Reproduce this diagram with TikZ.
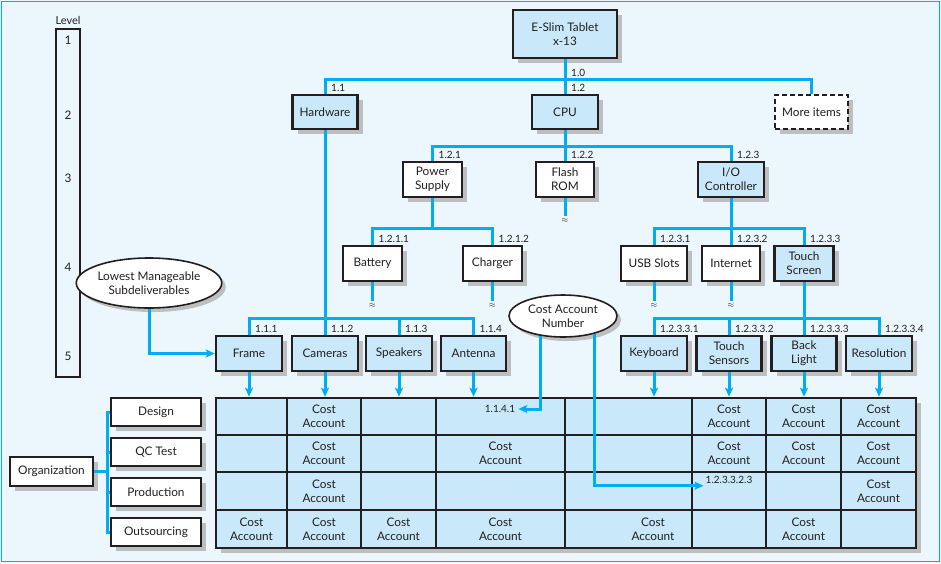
\documentclass[tikz,border=0pt]{standalone}
\usepackage{fontspec}
\setmainfont{Lato}
\usetikzlibrary{arrows.meta}
\usetikzlibrary{shapes.geometric}
\usetikzlibrary{shadows}

\definecolor{wbsblue}{HTML}{00AEEF}
\definecolor{wbsfill}{HTML}{C9E9FA}
\definecolor{wbsbg}{HTML}{EBF6FD}
\definecolor{wbsshadow}{HTML}{BCBEC0}
\definecolor{wbstext}{HTML}{231F20}

\begin{document}
\begin{tikzpicture}[x=1pt, y=-1pt,
  font=\fontsize{11.8}{14}\selectfont, text=wbstext,
  shade/.style={drop shadow={shadow xshift=5pt, shadow yshift=-5pt, fill=wbsshadow, opacity=1}},
  box/.style={draw=wbstext, line width=2.4pt, fill=wbsfill, align=center, inner sep=1pt, minimum height=34pt, shade},
  wbox/.style={box, fill=white},
  ell/.style={ellipse, draw=wbstext, line width=1.6pt, fill=white, align=center, inner sep=0pt,
    drop shadow={shadow xshift=4pt, shadow yshift=-4pt, fill=wbsshadow, opacity=1}},
  conn/.style={draw=wbsblue, line width=3pt},
  arr/.style={conn, -{Stealth[length=9pt, width=8pt, inset=2pt]}},
  num/.style={font=\fontsize{10}{12}\selectfont, inner sep=1pt, anchor=south west, xshift=5pt, yshift=1.5pt},
  cell/.style={align=center, inner sep=0pt},
  cut/.style={inner sep=0pt, minimum height=8pt, font=\footnotesize},
  grid/.style={draw=wbstext, line width=1.2pt}]

  \useasboundingbox (0,0) rectangle (941,563);
  \fill[wbsbg] (0,0) rectangle (941,563);
  \draw[wbsblue, line width=1.5pt] (1.5,1.5) rectangle (939.5,561.5);

  % levels
  \node[draw=wbstext, line width=2.4pt, minimum width=24pt, minimum height=348pt, inner sep=0pt] (lvl) at (68,203) {};
  \node[font=\fontsize{11}{13}\selectfont, inner sep=1pt, anchor=south, yshift=2pt] (lvltitle) at (lvl.north) {Level};
  \foreach \lv/\ly in {1/40, 2/115, 3/178.5, 4/267, 5/356}
    \node (lv\lv) at (68,\ly) {\lv};

  % tree
  \node[box, minimum width=104pt, minimum height=48pt] (tab) at (565,34) {E-Slim Tablet\\x-13};
  \node[box, minimum width=65pt] (hw) at (325,112) {Hardware};
  \node[box, minimum width=66pt] (cpu) at (565,112) {CPU};
  \node[wbox, dash pattern=on 5pt off 3pt, minimum width=73pt] (more) at (811.5,112) {More items};
  \coordinate (bar2) at (565,79);
  \draw[conn] (tab.south) -- (cpu.north);
  \draw[conn] (hw.north) |- (bar2) -| (more.north);
  \node[num] (n10) at (bar2) {1.0};
  \node[num] (n11) at (hw.north) {1.1};
  \node[num] (n12) at (cpu.north) {1.2};

  \node[wbox, minimum width=59pt, minimum height=35pt] (ps) at (432.5,179.5) {Power\\Supply};
  \node[wbox, minimum width=58pt, minimum height=35pt] (rom) at (565,179.5) {Flash\\ROM};
  \node[box, minimum width=66pt, minimum height=35pt] (io) at (731,179.5) {I/O\\Controller};
  \coordinate (bar3) at (565,146);
  \draw[conn] (cpu.south) -- (rom.north);
  \draw[conn] (ps.north) |- (bar3) -| (io.north);
  \node[num] (n121) at (ps.north) {1.2.1};
  \node[num] (n122) at (rom.north) {1.2.2};
  \node[num] (n123) at (io.north) {1.2.3};
  \node[cut] (romcut) at (565,220) {$\approx$};
  \draw[conn] (rom.south) -- (romcut.north);

  \node[wbox, minimum width=59pt, minimum height=35pt] (bat) at (372.5,263.5) {Battery};
  \node[wbox, minimum width=59pt, minimum height=35pt] (chg) at (492.5,263.5) {Charger};
  \coordinate (bar4l) at (432.5,228);
  \draw[conn] (ps.south) -- (bar4l);
  \draw[conn] (bat.north) |- (bar4l) -| (chg.north);
  \node[num] (n1211) at (bat.north) {1.2.1.1};
  \node[num] (n1212) at (chg.north) {1.2.1.2};

  \node[wbox, minimum width=66pt, minimum height=35pt] (usb) at (654,263.5) {USB Slots};
  \node[wbox, minimum width=58pt, minimum height=35pt] (net) at (731,263.5) {Internet};
  \node[box, minimum width=59pt, minimum height=35pt] (ts) at (804,263.5) {Touch\\Screen};
  \coordinate (bar4r) at (731,228);
  \draw[conn] (io.south) -- (net.north);
  \draw[conn] (usb.north) |- (bar4r) -| (ts.north);
  \node[num] (n1231) at (usb.north) {1.2.3.1};
  \node[num] (n1232) at (net.north) {1.2.3.2};
  \node[num] (n1233) at (ts.north) {1.2.3.3};

  \foreach \nd in {bat, chg, usb, net} {
    \node[cut] (\nd cut) at ([yshift=-23pt]\nd.south) {$\approx$};
    \draw[conn] (\nd.south) -- (\nd cut.north);
  }

  \node[box, minimum width=66pt, minimum height=35pt] (frame) at (249,353.5) {Frame};
  \node[box, minimum width=66pt, minimum height=35pt] (cam) at (325,353.5) {Cameras};
  \node[box, minimum width=66pt, minimum height=35pt] (spk) at (399,353.5) {Speakers};
  \node[box, minimum width=65pt, minimum height=35pt] (ant) at (473.5,353.5) {Antenna};
  \coordinate (bar5l) at (325,318);
  \draw[conn] (hw.south) -- (cam.north);
  \draw[conn] (frame.north) |- (bar5l) -| (ant.north);
  \draw[conn] (spk.north) -- (spk.north |- bar5l);
  \node[num] (n111) at (frame.north) {1.1.1};
  \node[num] (n112) at (cam.north) {1.1.2};
  \node[num] (n113) at (spk.north) {1.1.3};
  \node[num] (n114) at (ant.north) {1.1.4};

  \node[box, minimum width=66pt, minimum height=35pt] (kb) at (654,353.5) {Keyboard};
  \node[box, minimum width=65pt, minimum height=35pt] (tsen) at (729,353.5) {Touch\\Sensors};
  \node[box, minimum width=65pt, minimum height=35pt] (bl) at (804,353.5) {Back\\Light};
  \node[box, minimum width=66pt, minimum height=35pt] (res) at (879,353.5) {Resolution};
  \coordinate (bar5r) at (804,318);
  \draw[conn] (ts.south) -- (bl.north);
  \draw[conn] (kb.north) |- (bar5r) -| (res.north);
  \draw[conn] (tsen.north) -- (tsen.north |- bar5r);
  \node[num] (n12331) at (kb.north) {1.2.3.3.1};
  \node[num] (n12332) at (tsen.north) {1.2.3.3.2};
  \node[num] (n12333) at (bl.north) {1.2.3.3.3};
  \node[num] (n12334) at (res.north) {1.2.3.3.4};

  % cost account table
  \node[draw=wbstext, line width=2.6pt, fill=wbsfill, minimum width=700pt, minimum height=150pt, inner sep=0pt, shade] (tbl) at (566,473) {};
  \foreach \gx in {287, 361, 436, 565, 692, 766, 841}
    \draw[grid] (\gx,0 |- tbl.north) -- (\gx,0 |- tbl.south);
  \foreach \gy in {435, 472, 510}
    \draw[grid] (tbl.west |- 0,\gy) -- (tbl.east |- 0,\gy);
  \foreach \nd in {frame, cam, spk, ant, kb, tsen, bl, res}
    \draw[arr] (\nd.south) -- (\nd.south |- tbl.north);

  \foreach \cx/\cy [count=\i] in {324/416.5, 729/416.5, 803.5/416.5, 878.5/416.5,
      324/453.5, 500.5/453.5, 729/453.5, 803.5/453.5, 878.5/453.5,
      324/491, 878.5/491,
      251.5/529, 324/529, 398.5/529, 500.5/529, 653/529, 803.5/529}
    \node[cell] (ca\i) at (\cx,\cy) {Cost\\Account};
  \node[cell, font=\fontsize{10}{12}\selectfont, inner sep=3pt] (n1141) at (500,409) {1.1.4.1};
  \node[cell, font=\fontsize{10}{12}\selectfont, inner sep=2pt, anchor=north] (n123323) at (729,474) {1.2.3.3.2.3};

  % callouts
  \node[ell, minimum width=128pt, minimum height=50pt] (lms) at (149,283) {Lowest Manageable\\Subdeliverables};
  \node[ell, minimum width=108pt, minimum height=42pt] (can) at (563,316) {Cost Account\\Number};
  \draw[arr] (lms.south) |- (frame.west);
  \draw[arr] (can.221) |- (n1141.east);
  \draw[arr] (can.-29) |- (n123323.south west);

  % organization
  \node[wbox, minimum width=83pt, minimum height=29pt] (org) at (51.5,471.5) {Organization};
  \node[wbox, minimum width=90pt, minimum height=28pt] (des) at (156,412) {Design};
  \node[wbox, minimum width=90pt, minimum height=28pt] (qc) at (156,452) {QC Test};
  \node[wbox, minimum width=90pt, minimum height=28pt] (prod) at (156,492) {Production};
  \node[wbox, minimum width=90pt, minimum height=28pt] (outs) at (156,532) {Outsourcing};
  \coordinate (orgbus) at (107,471.5);
  \draw[conn] (org.east) -- (orgbus);
  \draw[conn] (des.west) -| (orgbus) |- (outs.west);
  \draw[conn] (qc.west) -- (qc.west -| orgbus);
  \draw[conn] (prod.west) -- (prod.west -| orgbus);

\end{tikzpicture}
\end{document}
